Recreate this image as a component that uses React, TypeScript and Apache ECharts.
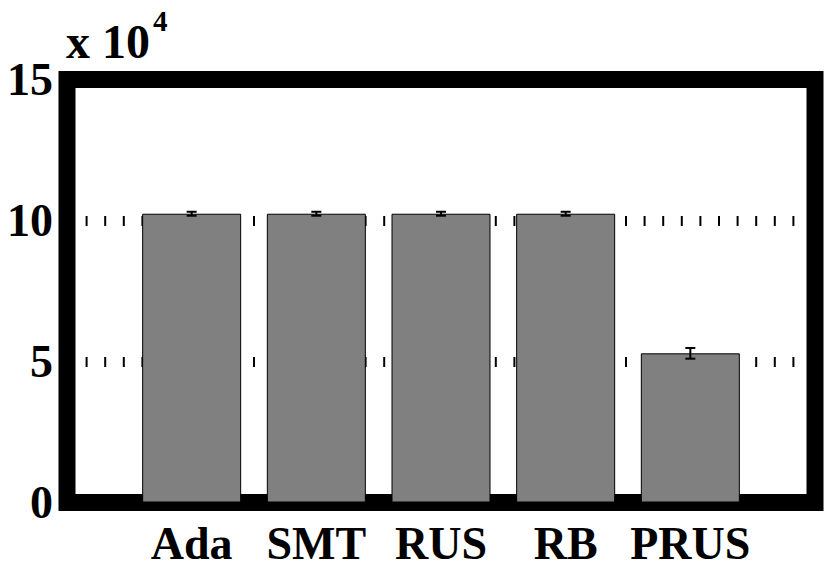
import React, { useEffect, useRef } from "react";
import * as echarts from "echarts";

const categories = ["Ada", "SMT", "RUS", "RB", "PRUS"];
const means = [102400, 102400, 102400, 102400, 52900];
const errors = [700, 700, 700, 700, 1900];
const yTicks = [0, 50000, 100000, 150000];

const FONT = "'Liberation Serif', 'Times New Roman', serif";

export default function App() {
  const ref = useRef<HTMLDivElement>(null);
  useEffect(() => {
    if (!ref.current) return;
    const chart = echarts.init(ref.current, null, { renderer: "svg" });
    const barData = means.map((v, i) => [i + 1, v]);
    const errData = means.map((v, i) => [i + 1, v, errors[i]]);
    chart.setOption({
      animation: false,
      backgroundColor: "#fff",
      grid: {
        left: 67,
        right: 15,
        top: 79.5,
        bottom: 76.5,
        show: true,
        borderColor: "#000",
        borderWidth: 17,
        backgroundColor: "#fff",
      },
      xAxis: {
        type: "value",
        min: 0,
        max: categories.length + 1,
        interval: 1,
        axisLine: { show: false },
        axisTick: { show: false },
        splitLine: { show: false },
        axisLabel: {
          margin: 18,
          color: "#000",
          fontSize: 46,
          fontWeight: "bold",
          fontFamily: FONT,
          formatter: (v: number) => categories[Math.round(v) - 1] || "",
        },
      },
      yAxis: {
        type: "value",
        min: yTicks[0],
        max: yTicks[yTicks.length - 1],
        interval: yTicks[1] - yTicks[0],
        axisLine: { show: false },
        axisTick: { show: false },
        splitLine: {
          show: true,
          showMinLine: false,
          showMaxLine: false,
          lineStyle: { color: "#000", width: 10, type: [2, 16.6] },
        },
        axisLabel: {
          margin: 14,
          color: "#000",
          fontSize: 46,
          fontWeight: "bold",
          fontFamily: FONT,
          formatter: (v: number) => String(v / 10000),
        },
      },
      graphic: [
        {
          type: "text",
          left: 66,
          top: 17,
          style: {
            text: "x 10",
            fill: "#000",
            font: `bold 48px ${FONT}`,
          },
        },
        {
          type: "text",
          left: 153,
          top: 6,
          style: {
            text: "4",
            fill: "#000",
            font: `bold 29px ${FONT}`,
          },
        },
      ],
      series: [
        {
          type: "bar",
          data: barData,
          barWidth: 99,
          itemStyle: { color: "#808080", borderColor: "#000", borderWidth: 1 },
          z: 3,
        },
        {
          type: "custom",
          data: errData,
          z: 4,
          renderItem: (params: any, api: any) => {
            const x = api.value(0);
            const y = api.value(1);
            const e = api.value(2);
            const top = api.coord([x, y + e]);
            const bot = api.coord([x, y - e]);
            const hw = 5;
            const st = { stroke: "#000", lineWidth: 2 };
            return {
              type: "group",
              children: [
                { type: "line", shape: { x1: top[0], y1: top[1], x2: bot[0], y2: bot[1] }, style: st },
                { type: "line", shape: { x1: top[0] - hw, y1: top[1], x2: top[0] + hw, y2: top[1] }, style: st },
                { type: "line", shape: { x1: bot[0] - hw, y1: bot[1], x2: bot[0] + hw, y2: bot[1] }, style: st },
              ],
            };
          },
        },
      ],
    });
    return () => chart.dispose();
  }, []);
  return (
    <div
      ref={ref}
      style={{ position: "fixed", left: 0, top: 0, width: 830, height: 579, background: "#fff" }}
    />
  );
}
